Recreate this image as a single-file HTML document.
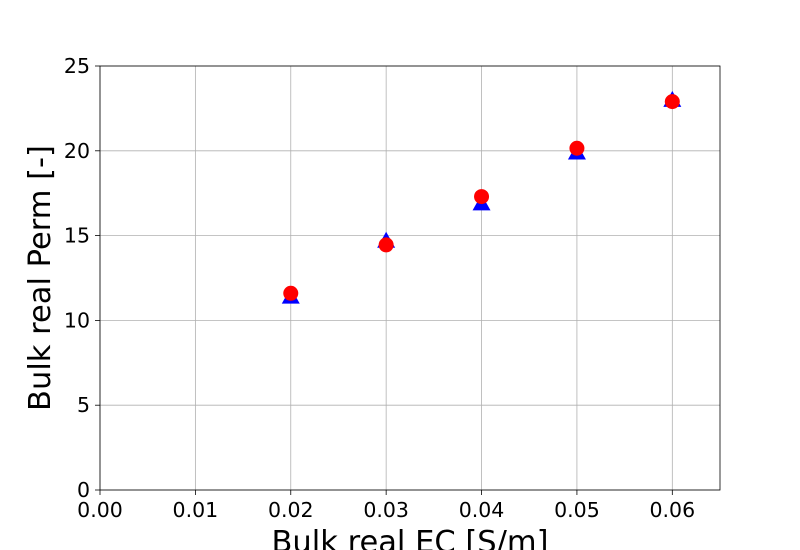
<!DOCTYPE html>
<html><head><meta charset="utf-8"><style>
body{margin:0;background:#fff;}
svg{display:block;font-family:"DejaVu Sans","Liberation Sans",sans-serif;}
</style></head><body>
<svg id="chart" width="800" height="550"></svg>
<script>
const xVals=[0.02,0.03,0.04,0.05,0.06];
const permTri=[11.4,14.7,16.9,19.9,23.0];
const permCirc=[11.6,14.45,17.3,20.15,22.9];
const xTicks=[0,0.01,0.02,0.03,0.04,0.05,0.06];
const yTicks=[0,5,10,15,20,25];
const xTickLabels=["0.00","0.01","0.02","0.03","0.04","0.05","0.06"];
const yTickLabels=["0","5","10","15","20","25"];
const L=100,R=720,T=66,B=490,XMAX=0.065,YMAX=25;
const sx=v=>L+v/XMAX*(R-L), sy=v=>B-v/YMAX*(B-T);
const svg=document.getElementById('chart'), NS='http://www.w3.org/2000/svg';
function mk(t,a,p){const e=document.createElementNS(NS,t);for(const k in a)e.setAttribute(k,a[k]);(p||svg).appendChild(e);return e;}
const grid=mk('g',{});


xTicks.forEach((v,i)=>{
 mk('line',{x1:sx(v),x2:sx(v),y1:T,y2:B,stroke:'#b0b0b0','stroke-width':0.8},grid);
 mk('line',{x1:sx(v),x2:sx(v),y1:B,y2:B+5,stroke:'#000','stroke-width':0.8});
 const t=mk('text',{x:sx(v),y:B+27,'text-anchor':'middle','font-size':20.5});
 t.textContent=xTickLabels[i];
 
 
});
yTicks.forEach((v,i)=>{
 mk('line',{x1:L,x2:R,y1:sy(v),y2:sy(v),stroke:'#b0b0b0','stroke-width':0.8},grid);
 mk('line',{x1:L-5,x2:L,y1:sy(v),y2:sy(v),stroke:'#000','stroke-width':0.8});
 const t=mk('text',{x:L-10,y:sy(v)+7,'text-anchor':'end','font-size':20.5});
 t.textContent=yTickLabels[i];
 
 
});
const frame=mk('rect',{x:L,y:T,width:R-L,height:B-T,fill:'none',stroke:'#000','stroke-width':0.8});


xVals.forEach((x,i)=>{
 const cx=sx(x),cy=sy(permTri[i]);
 const p=mk('polygon',{points:`${cx},${cy-9} ${cx-9},${cy+7} ${cx+9},${cy+7}`,fill:'#0000ff'});
 
 
});
xVals.forEach((x,i)=>{
 const c=mk('circle',{cx:sx(x),cy:sy(permCirc[i]),r:7.5,fill:'#ff0000'});
 
 
});
const xt=mk('text',{x:(L+R)/2+0,y:552,'text-anchor':'middle','font-size':30.5});
xt.textContent='Bulk real EC [S/m]';


const yt=mk('text',{x:0,y:0,'text-anchor':'middle','font-size':30.5,transform:`translate(50,${(T+B)/2}) rotate(-90)`});
yt.textContent='Bulk real Perm [-]';


</script>
</body></html>
